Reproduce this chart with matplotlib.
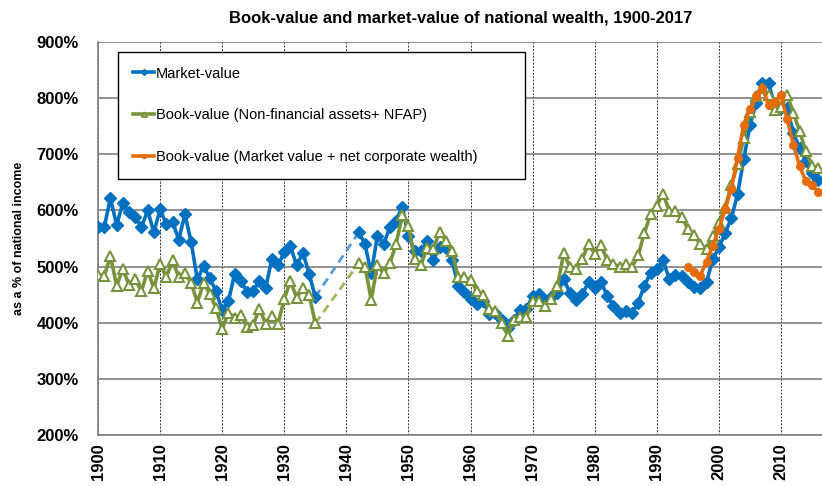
import numpy as np
import matplotlib.pyplot as plt

plt.rcParams['font.family'] = ['Liberation Sans', 'DejaVu Sans']

# years: 1900-1935 and 1942-2016 (no data for 1936-1941)
YEARS_EARLY = list(range(1900, 1936))
YEARS_LATE = list(range(1942, 2017))
YEARS_CORP = list(range(1995, 2017))

MARKET_EARLY = [570, 570, 622, 574, 613, 598, 588, 570, 600, 561,
                602, 575, 580, 548, 593, 544, 477, 501, 480, 456,
                422, 438, 487, 475, 455, 456, 475, 462, 514, 502,
                526, 536, 502, 525, 487, 446]
MARKET_LATE = [561, 540, 488, 555, 540, 570, 582, 606,
               555, 528, 527, 546, 512, 534, 533, 512, 466, 454,
               443, 433, 439, 415, 418, 405, 391, 405, 423, 425,
               448, 451, 441, 445, 453, 478, 453, 441, 451, 472,
               461, 473, 448, 430, 417, 421, 417, 436, 466, 489,
               495, 511, 478, 485, 484, 472, 463, 461, 472, 513,
               534, 560, 586, 629, 691, 753, 791, 827, 827, 785,
               782, 782, 738, 711, 688, 667, 655]

BOOK_EARLY = [485, 483, 519, 466, 495, 468, 477, 456, 493, 461,
              505, 481, 511, 481, 489, 471, 436, 471, 452, 426,
              389, 418, 409, 414, 392, 396, 425, 398, 412, 398,
              443, 474, 444, 462, 450, 399]
BOOK_LATE = [506, 500, 441, 503, 488, 506, 540, 591,
             573, 513, 503, 533, 531, 562, 546, 528, 481, 481,
             476, 457, 449, 425, 421, 400, 377, 405, 411, 411,
             439, 439, 430, 443, 465, 524, 499, 495, 514, 540,
             523, 538, 512, 505, 499, 505, 499, 520, 560, 594,
             608, 630, 599, 599, 589, 567, 556, 540, 532, 555,
             577, 605, 645, 682, 729, 776, 803, 818, 806, 779,
             785, 806, 773, 741, 705, 679, 676]

CORP = [500, 490, 484, 509, 537, 567, 602, 639, 694, 753, 781,
        804, 818, 788, 794, 806, 762, 717, 679, 652, 646, 632]

LABELS = ['Market-value',
          'Book-value (Non-financial assets+ NFAP)',
          'Book-value (Market value + net corporate wealth)']

BLUE = '#0070C0'
GREEN = '#77933C'
ORANGE = '#E46C0A'

fig = plt.figure(figsize=(8.22, 4.86), dpi=100)
ax = fig.add_axes([98 / 822, 1 - 435 / 486, 724 / 822, 393 / 486])

# dashed bridges over the war gap
ax.plot([YEARS_EARLY[-1], YEARS_LATE[0]], [MARKET_EARLY[-1], MARKET_LATE[0]],
        color='#5B9BD5', lw=2, ls=(0, (3, 2)), zorder=2)
ax.plot([YEARS_EARLY[-1], YEARS_LATE[0]], [BOOK_EARLY[-1], BOOK_LATE[0]],
        color='#9BBB59', lw=2, ls=(0, (3, 2)), zorder=2)

for ys, ms, bs, lab in [(YEARS_EARLY, MARKET_EARLY, BOOK_EARLY, True),
                        (YEARS_LATE, MARKET_LATE, BOOK_LATE, False)]:
    ax.plot(ys, ms, color=BLUE, lw=2.6, marker='D', ms=6, mec=BLUE,
            label=LABELS[0] if lab else None, zorder=3)
    ax.plot(ys, bs, color=GREEN, lw=2.6, marker='^', ms=6.5, mfc='white',
            mec=GREEN, mew=1.5, label=LABELS[1] if lab else None, zorder=4)

ax.plot(YEARS_CORP, CORP, color=ORANGE, lw=2.6, marker='o', ms=5.5,
        label=LABELS[2], zorder=5)

ax.set_xlim(1900, 2016.6)
ax.set_ylim(200, 900)
ax.set_yticks(range(200, 901, 100))
ax.set_yticklabels([f'{v}%' for v in range(200, 901, 100)],
                   fontsize=12, fontweight='bold')
ax.set_xticks(range(1900, 2011, 10))
ax.set_xticklabels([str(y) for y in range(1900, 2011, 10)],
                   rotation=90, fontsize=12, fontweight='bold')
ax.tick_params(axis='x', length=0, pad=6)
ax.tick_params(axis='y', length=0, pad=14)

ax.grid(axis='y', color='#7f7f7f', lw=1.2, ls='-', zorder=0)
ax.grid(axis='x', color='#333333', lw=0.7, ls=(0, (2, 1.5)), zorder=0)
for s in ['top', 'right']:
    ax.spines[s].set_visible(False)
for s in ['left', 'bottom']:
    ax.spines[s].set_color('#7f7f7f')
    ax.spines[s].set_linewidth(1.2)

ax.set_ylabel('as a % of national income', fontsize=9, fontweight='bold',
              labelpad=8)
fig.text(0.56, 0.963, 'Book-value and market-value of national wealth, 1900-2017',
         ha='center', va='center', fontsize=12, fontweight='bold')

leg = ax.legend(loc='upper left', bbox_to_anchor=(0.0276, 0.41, 0.562, 0.5646),
                mode='expand', fontsize=10.5, frameon=True, fancybox=False,
                edgecolor='black', framealpha=1, borderpad=1.0,
                labelspacing=1.9, handlelength=1.5, handletextpad=0.1,
                markerscale=0.5, borderaxespad=0)
leg.get_frame().set_linewidth(1.0)
leg.set_zorder(10)

plt.savefig('out.png', dpi=100)
